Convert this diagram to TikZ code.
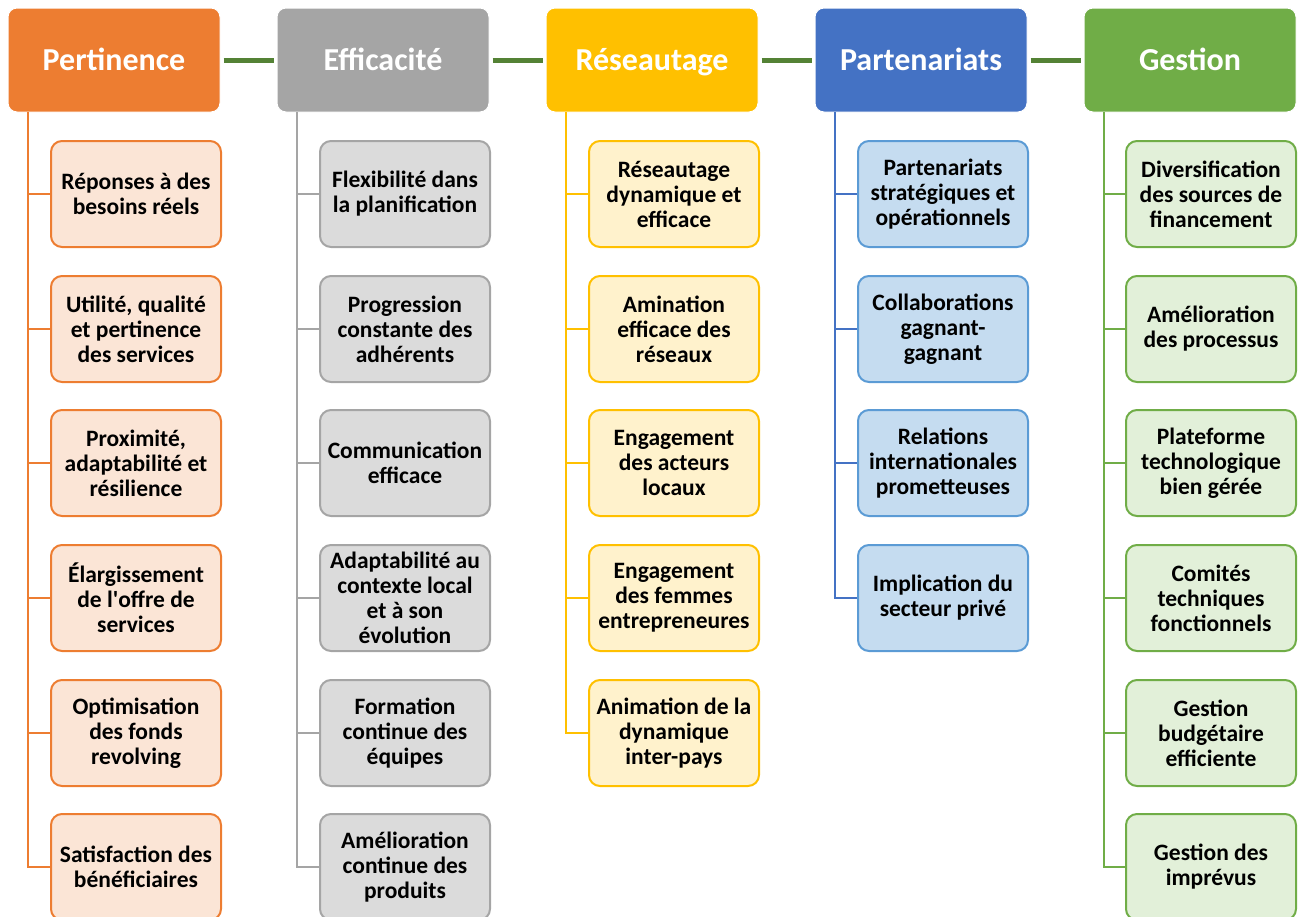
\documentclass[tikz,border=0pt]{standalone}
\usepackage{fontspec}
\setmainfont{Carlito}
\definecolor{cOr}{HTML}{ED7D31}
\definecolor{cOrL}{HTML}{FBE5D6}
\definecolor{cGr}{HTML}{A5A5A5}
\definecolor{cGrL}{HTML}{DBDBDB}
\definecolor{cYe}{HTML}{FFC000}
\definecolor{cYeL}{HTML}{FFF2CC}
\definecolor{cBl}{HTML}{4472C4}
\definecolor{cBlB}{HTML}{5B9BD5}
\definecolor{cBlL}{HTML}{C5DCF0}
\definecolor{cGn}{HTML}{70AD47}
\definecolor{cGnL}{HTML}{E2F0D9}
\definecolor{cLink}{HTML}{548235}
\begin{document}
\begin{tikzpicture}[x=1pt,y=-1pt,
  hdr/.style={draw=white, line width=1pt, rounded corners=9pt, minimum width=212pt, minimum height=104pt, inner sep=0pt, text height=20.5pt, text depth=0pt, text=white, font=\fontsize{32}{38}\selectfont\bfseries},
  child/.style={rounded corners=11pt, line width=2pt, minimum width=170pt, minimum height=106pt, inner sep=0pt, align=center, font=\fontsize{23.5}{25}\selectfont\bfseries},
  link/.style={draw=cLink, line width=5pt, shorten <=3pt, shorten >=3pt},
  tree/.style={line width=2pt},
  orc/.style={child, draw=cOr, fill=cOrL},
  grc/.style={child, draw=cGr, fill=cGrL},
  yec/.style={child, draw=cYe, fill=cYeL},
  blc/.style={child, draw=cBlB, fill=cBlL},
  gnc/.style={child, draw=cGn, fill=cGnL}
]
\useasboundingbox (0,0) rectangle (1298,916);
% headers
\node[hdr, fill=cOr] (h1) at (114,60) {Pertinence};
\node[hdr, fill=cGr] (h2) at (383,60) {Efficacité};
\node[hdr, fill=cYe] (h3) at (652,60) {Réseautage};
\node[hdr, fill=cBl] (h4) at (921,60) {Partenariats};
\node[hdr, fill=cGn] (h5) at (1190,60) {Gestion};
\draw[link] (h1.east) -- (h2.west);
\draw[link] (h2.east) -- (h3.west);
\draw[link] (h3.east) -- (h4.west);
\draw[link] (h4.east) -- (h5.west);
% trunk start points
\coordinate (v1) at (28,112);
\coordinate (v2) at (297,112);
\coordinate (v3) at (566,112);
\coordinate (v4) at (835,112);
\coordinate (v5) at (1104,112);
% Pertinence
\node[orc] (a1) at (136,194) {Réponses à des\\besoins réels};
\node[orc] (a2) at (136,329) {Utilité, qualité\\et pertinence\\des services};
\node[orc] (a3) at (136,463) {Proximité,\\adaptabilité et\\résilience};
\node[orc] (a4) at (136,598) {Élargissement\\de l\textquotesingle offre de\\services};
\node[orc] (a5) at (136,733) {Optimisation\\des fonds\\revolving};
\node[orc] (a6) at (136,867) {Satisfaction des\\bénéficiaires};
\draw[tree, draw=cOr] (v1) |- (a6.west);
\foreach \n in {a1,a2,a3,a4,a5} \draw[tree, draw=cOr] (\n.west) -- (\n.west -| v1);
% Efficacité
\node[grc] (b1) at (405,194) {Flexibilité dans\\la planification};
\node[grc] (b2) at (405,329) {Progression\\constante des\\adhérents};
\node[grc] (b3) at (405,463) {Communication\\efficace};
\node[grc] (b4) at (405,598) {Adaptabilité au\\contexte local\\et à son\\évolution};
\node[grc] (b5) at (405,733) {Formation\\continue des\\équipes};
\node[grc] (b6) at (405,867) {Amélioration\\continue des\\produits};
\draw[tree, draw=cGr] (v2) |- (b6.west);
\foreach \n in {b1,b2,b3,b4,b5} \draw[tree, draw=cGr] (\n.west) -- (\n.west -| v2);
% Réseautage
\node[yec] (c1) at (674,194) {Réseautage\\dynamique et\\efficace};
\node[yec] (c2) at (674,329) {Amination\\efficace des\\réseaux};
\node[yec] (c3) at (674,463) {Engagement\\des acteurs\\locaux};
\node[yec] (c4) at (674,598) {Engagement\\des femmes\\entrepreneures};
\node[yec] (c5) at (674,733) {Animation de la\\dynamique\\inter-pays};
\draw[tree, draw=cYe] (v3) |- (c5.west);
\foreach \n in {c1,c2,c3,c4} \draw[tree, draw=cYe] (\n.west) -- (\n.west -| v3);
% Partenariats
\node[blc] (d1) at (943,194) {Partenariats\\stratégiques et\\opérationnels};
\node[blc] (d2) at (943,329) {Collaborations\\gagnant-\\gagnant};
\node[blc] (d3) at (943,463) {Relations\\internationales\\prometteuses};
\node[blc] (d4) at (943,598) {Implication du\\secteur privé};
\draw[tree, draw=cBl] (v4) |- (d4.west);
\foreach \n in {d1,d2,d3} \draw[tree, draw=cBl] (\n.west) -- (\n.west -| v4);
% Gestion
\node[gnc] (e1) at (1211,194) {Diversification\\des sources de\\financement};
\node[gnc] (e2) at (1211,329) {Amélioration\\des processus};
\node[gnc] (e3) at (1211,463) {Plateforme\\technologique\\bien gérée};
\node[gnc] (e4) at (1211,598) {Comités\\techniques\\fonctionnels};
\node[gnc] (e5) at (1211,733) {Gestion\\budgétaire\\efficiente};
\node[gnc] (e6) at (1211,867) {Gestion des\\imprévus};
\draw[tree, draw=cGn] (v5) |- (e6.west);
\foreach \n in {e1,e2,e3,e4,e5} \draw[tree, draw=cGn] (\n.west) -- (\n.west -| v5);
\end{tikzpicture}
\end{document}
